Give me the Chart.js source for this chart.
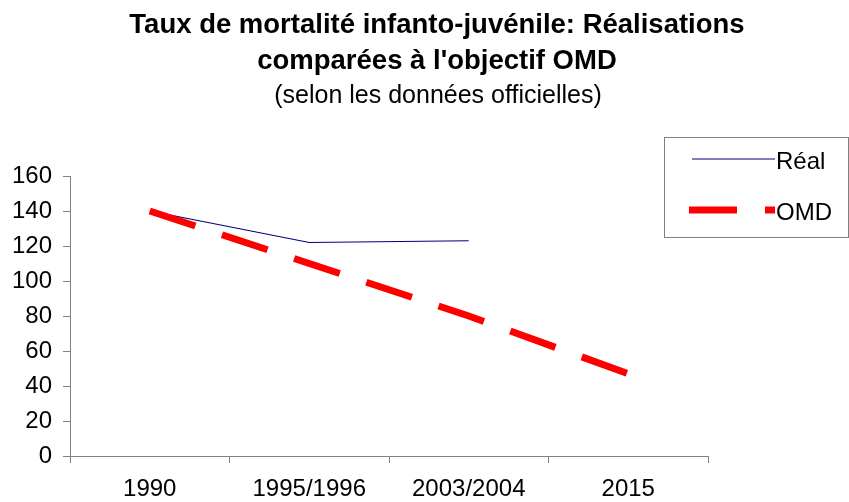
<!DOCTYPE html>
<html>
<head>
<meta charset="utf-8">
<script src="https://cdn.jsdelivr.net/npm/chart.js@4/dist/chart.umd.min.js"></script>
<style>
  html, body { margin: 0; padding: 0; background: #fff; }
  canvas { display: block; }
</style>
</head>
<body>
<canvas id="mortChart" width="849" height="502"></canvas>
<script>
const years = ['1990', '1995/1996', '2003/2004', '2015'];
const realValues = [140, 122, 123, null];
const omdValues = [140, 110, 80, 47];
const titleLines = ["Taux de mortalité infanto-juvénile: Réalisations", "comparées à l'objectif OMD"];
const subtitleText = '(selon les données officielles)';

const FONT = "Arial, 'Liberation Sans', sans-serif";
const axisGray = '#808080';

// titles and the boxed legend are painted by hand to sit where the original has them
const decorations = {
    id: 'decorations',
    afterDraw(chart) {
        const ctx = chart.ctx;
        ctx.save();
        ctx.fillStyle = '#000';
        ctx.textAlign = 'center';
        ctx.textBaseline = 'middle';
        ctx.font = 'bold 27.5px ' + FONT;
        ctx.fillText(titleLines[0], 437, 25);
        ctx.fillText(titleLines[1], 437, 61);
        ctx.font = '25px ' + FONT;
        ctx.fillText(subtitleText, 438, 96);

        // legend box
        ctx.fillStyle = '#fff';
        ctx.fillRect(664.5, 137.5, 184, 100);
        ctx.strokeStyle = axisGray;
        ctx.lineWidth = 1;
        ctx.strokeRect(664.5, 137.5, 184, 100);

        const rows = [{ y: 159, x0: 692 }, { y: 210, x0: 689 }];
        chart.data.datasets.forEach((ds, i) => {
            const r = rows[i];
            ctx.beginPath();
            ctx.strokeStyle = ds.borderColor;
            ctx.lineWidth = ds.borderWidth;
            ctx.setLineDash(ds.borderDash || []);
            ctx.lineCap = 'butt';
            ctx.moveTo(r.x0, r.y);
            ctx.lineTo(775, r.y);
            ctx.stroke();
            ctx.setLineDash([]);
            ctx.fillStyle = '#000';
            ctx.textAlign = 'left';
            ctx.font = '24px ' + FONT;
            ctx.fillText(ds.label, 776, r.y + 3);
        });
        ctx.restore();
    }
};

new Chart(document.getElementById('mortChart'), {
    type: 'line',
    data: {
        labels: years,
        datasets: [
            {
                label: 'Réal',
                data: realValues,
                borderColor: '#000080',
                borderWidth: 1.2,
                pointRadius: 0,
                tension: 0,
                order: 1
            },
            {
                label: 'OMD',
                data: omdValues,
                borderColor: '#ff0000',
                borderWidth: 7,
                borderDash: [48, 28],
                pointRadius: 0,
                tension: 0,
                order: 0
            }
        ]
    },
    options: {
        responsive: false,
        animation: false,
        devicePixelRatio: 1,
        layout: { padding: { top: 176, right: 141, left: 0, bottom: 0 } },
        plugins: {
            legend: { display: false },
            title: { display: false },
            tooltip: { enabled: false }
        },
        scales: {
            x: {
                offset: true,
                afterFit(scale) { scale.height = 46; },
                grid: {
                    offset: true,
                    drawOnChartArea: false,
                    drawTicks: true,
                    tickLength: 7,
                    color: axisGray
                },
                border: { color: axisGray, width: 1 },
                ticks: {
                    color: '#000',
                    padding: 12,
                    maxRotation: 0,
                    font: { family: FONT, size: 24 }
                }
            },
            y: {
                min: 0,
                max: 160,
                afterFit(scale) { scale.width = 70; },
                grid: {
                    drawOnChartArea: false,
                    drawTicks: true,
                    tickLength: 7,
                    color: axisGray
                },
                border: { color: axisGray, width: 1 },
                ticks: {
                    stepSize: 20,
                    color: '#000',
                    padding: 11,
                    font: { family: FONT, size: 24 }
                }
            }
        }
    },
    plugins: [decorations]
});
</script>
</body>
</html>
